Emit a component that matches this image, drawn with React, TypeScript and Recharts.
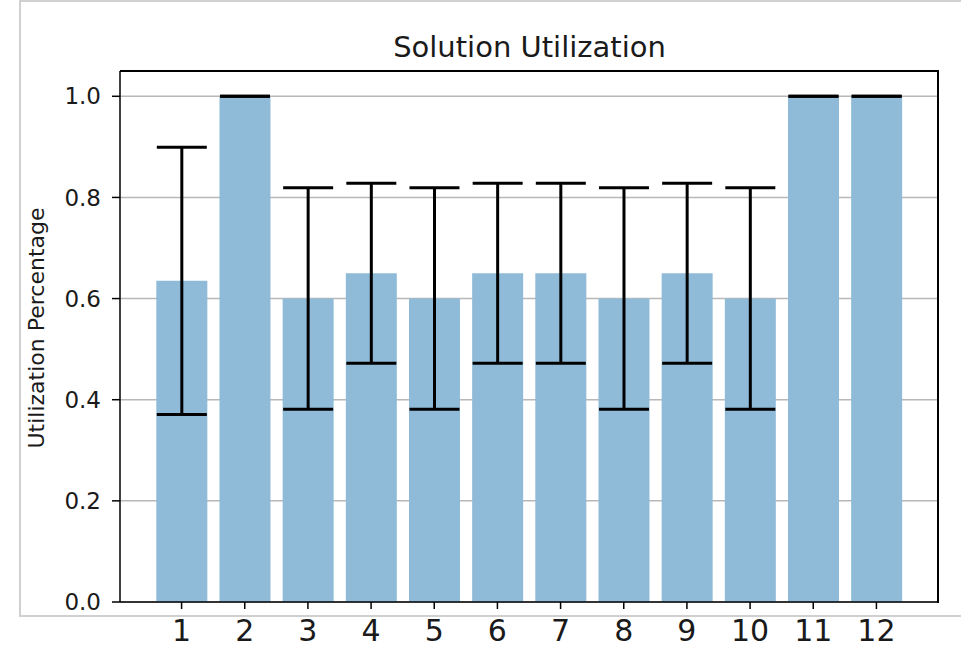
import { BarChart, Bar, XAxis, YAxis, CartesianGrid, ErrorBar } from "recharts";

// one bar per solution
const solutions = ["1", "2", "3", "4", "5", "6", "7", "8", "9", "10", "11", "12"];
const utilization = [0.635, 1.0, 0.6, 0.65, 0.6, 0.65, 0.65, 0.6, 0.65, 0.6, 1.0, 1.0];
const spread = [0.264, 0, 0.219, 0.178, 0.219, 0.178, 0.178, 0.219, 0.178, 0.219, 0, 0];
const yTicks = [0, 0.2, 0.4, 0.6, 0.8, 1.0];

const font = "'DejaVu Sans', sans-serif";

const App = () => {
	// [low, high] pairs so that zero spreads still draw their cap
	const data = solutions.map((s, i) => ({
		solution: s,
		value: utilization[i],
		err: [spread[i], spread[i]],
	}));

	return (
		<div
			style={{
				position: "absolute",
				left: 0,
				top: 0,
				width: 961,
				height: 648,
				background: "#fff",
				fontFamily: font,
				overflow: "hidden",
			}}
		>
			{/* light screenshot frame */}
			<div
				style={{
					position: "absolute",
					left: 19,
					top: 0,
					width: 960,
					height: 617,
					boxSizing: "border-box",
					borderTop: "2px solid #d0d0d0",
					borderLeft: "2px solid #d0d0d0",
					borderBottom: "2px solid #d0d0d0",
				}}
			/>
			<div
				style={{
					position: "absolute",
					left: 120,
					width: 819,
					top: 33,
					fontSize: 29,
					lineHeight: "28px",
					textAlign: "center",
					color: "#1a1a1a",
				}}
			>
				Solution Utilization
			</div>
			<div
				style={{
					position: "absolute",
					left: 37 - 160,
					top: 328 - 12,
					width: 320,
					height: 24,
					fontSize: 22,
					lineHeight: "24px",
					textAlign: "center",
					color: "#1a1a1a",
					transform: "rotate(-90deg)",
				}}
			>
				Utilization Percentage
			</div>
			<BarChart
				width={961}
				height={648}
				data={data}
				margin={{ top: 71, right: 22, bottom: 0, left: 0 }}
				barCategoryGap="10%"
				style={{ position: "absolute", left: 0, top: 0, fontFamily: font }}
			>
				<CartesianGrid vertical={false} stroke="#b8b8b8" strokeWidth={1.5} />
				<XAxis
					dataKey="solution"
					height={46}
					interval={0}
					padding={{ left: 30, right: 31 }}
					tickSize={7}
					tickMargin={11}
					tick={{ fontSize: 30, fill: "#1a1a1a" }}
					axisLine={{ stroke: "#000", strokeWidth: 1.5 }}
					tickLine={{ stroke: "#000", strokeWidth: 1.5 }}
				/>
				<YAxis
					domain={[0, 1.05]}
					ticks={yTicks}
					width={120}
					tickSize={8}
					tickMargin={11}
					tickFormatter={(v: number) => v.toFixed(1)}
					tick={{ fontSize: 23, fill: "#1a1a1a" }}
					axisLine={{ stroke: "#000", strokeWidth: 1.5 }}
					tickLine={{ stroke: "#000", strokeWidth: 1.5 }}
				/>
				<Bar dataKey="value" fill="#8fbbd9" isAnimationActive={false}>
					<ErrorBar
						dataKey="err"
						direction="y"
						width={25}
						stroke="#000"
						strokeWidth={3}
						isAnimationActive={false}
					/>
				</Bar>
			</BarChart>
			{/* top and right spines of the axes box */}
			<div
				style={{
					position: "absolute",
					left: 120,
					top: 70,
					width: 819,
					height: 533,
					boxSizing: "border-box",
					borderTop: "2px solid #000",
					borderRight: "2px solid #000",
					pointerEvents: "none",
				}}
			/>
		</div>
	);
};

export default App;
